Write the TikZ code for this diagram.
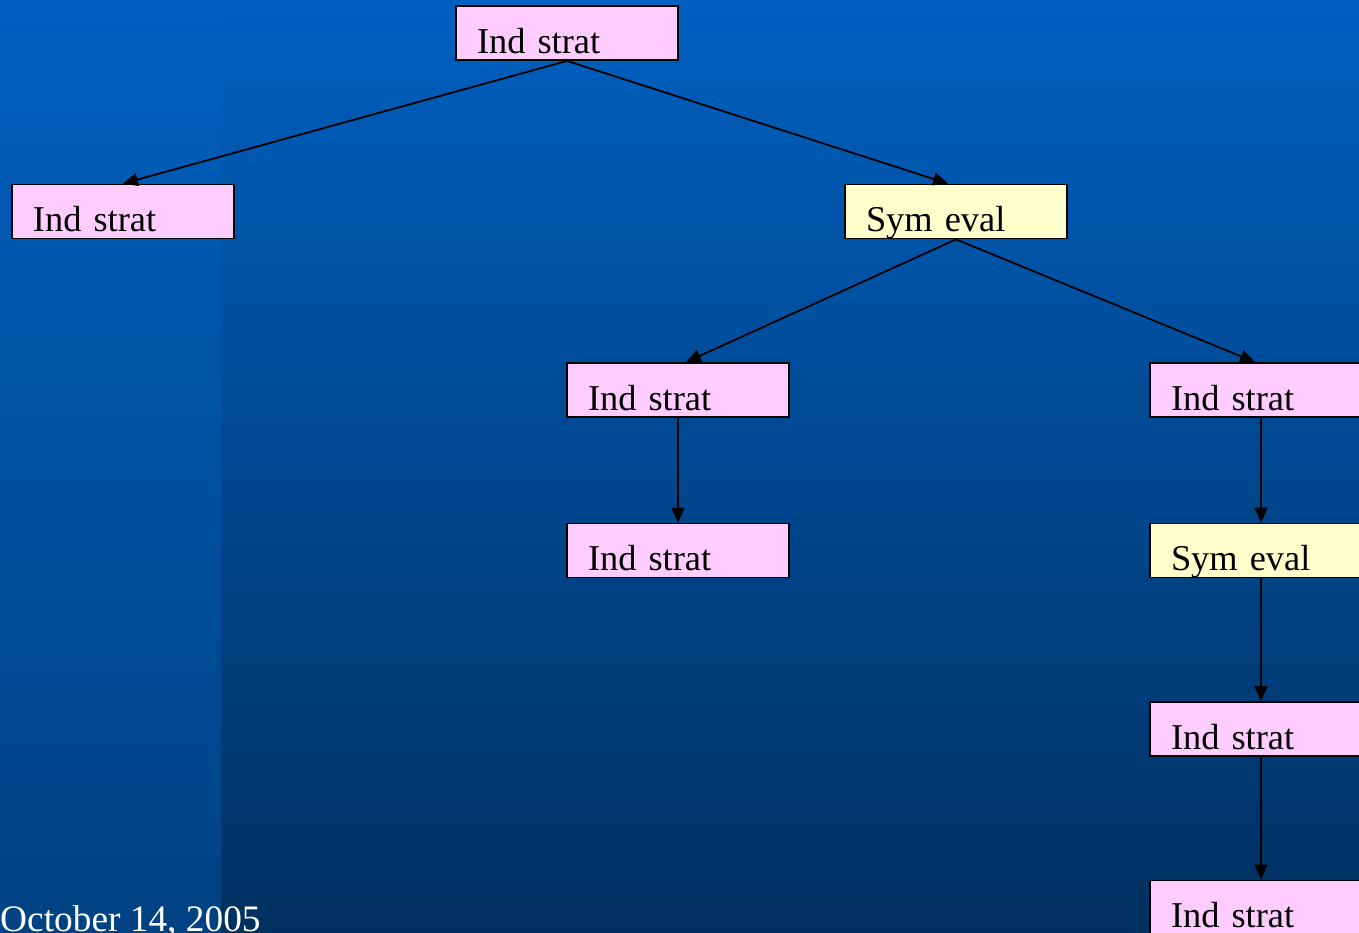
\documentclass[tikz,border=0pt]{standalone}
\usepackage{fontspec}
\setmainfont{Liberation Serif}
\usetikzlibrary{arrows.meta}
\definecolor{bgtop}{HTML}{0060C0}
\definecolor{bgbot}{HTML}{003060}
\definecolor{striptop}{HTML}{0060C0}
\definecolor{stripbot}{HTML}{004282}
\definecolor{indfill}{HTML}{FFCCFF}
\definecolor{symfill}{HTML}{FFFFCC}
\tikzset{
  box/.style={draw=black, line width=1.8bp, rectangle, minimum width=222bp,
    inner xsep=21bp, inner ysep=0bp, text width=180bp, align=left,
    text height=47bp, text depth=7bp, font=\fontsize{36.5}{40}\selectfont},
  ind/.style={box, fill=indfill},
  sym/.style={box, fill=symfill},
  conn/.style={line width=1.8bp, -{Triangle[length=15bp,width=13bp]}}
}
\begin{document}
\begin{tikzpicture}[x=1bp,y=-1bp]
\useasboundingbox (0,0) rectangle (1359,932);
\shade[top color=bgtop, bottom color=bgbot] (0,0) rectangle (1359,932);
\shade[top color=striptop, bottom color=stripbot] (0,0) rectangle (221,932);
\node[ind] (a) at (567,33) {Ind strat};
\node[ind] (b) at (123,211.5) {Ind strat};
\node[sym] (c) at (956,211.5) {Sym eval};
\node[ind] (d) at (678,390) {Ind strat};
\node[ind] (e) at (678,550.5) {Ind strat};
\node[ind] (f) at (1261,390) {Ind strat};
\node[sym] (g) at (1261,550.5) {Sym eval};
\node[ind] (h) at (1261,729) {Ind strat};
\node[ind] (i) at (1261,907.5) {Ind strat};
\draw[conn] (a.south) -- (b.north);
\draw[conn] (a.south) -- ([xshift=-8bp]c.north);
\draw[conn] (c.south) -- ([xshift=8bp]d.north);
\draw[conn] (c.south) -- ([xshift=-6bp]f.north);
\draw[conn] (d.south) -- (e.north);
\draw[conn] (f.south) -- (g.north);
\draw[conn] (g.south) -- (h.north);
\draw[conn] (h.south) -- (i.north);
\node[anchor=base west, inner sep=0pt, text=white, font=\fontsize{37.5}{40}\selectfont] (date) at (0,931) {October 14, 2005};
\end{tikzpicture}
\end{document}
